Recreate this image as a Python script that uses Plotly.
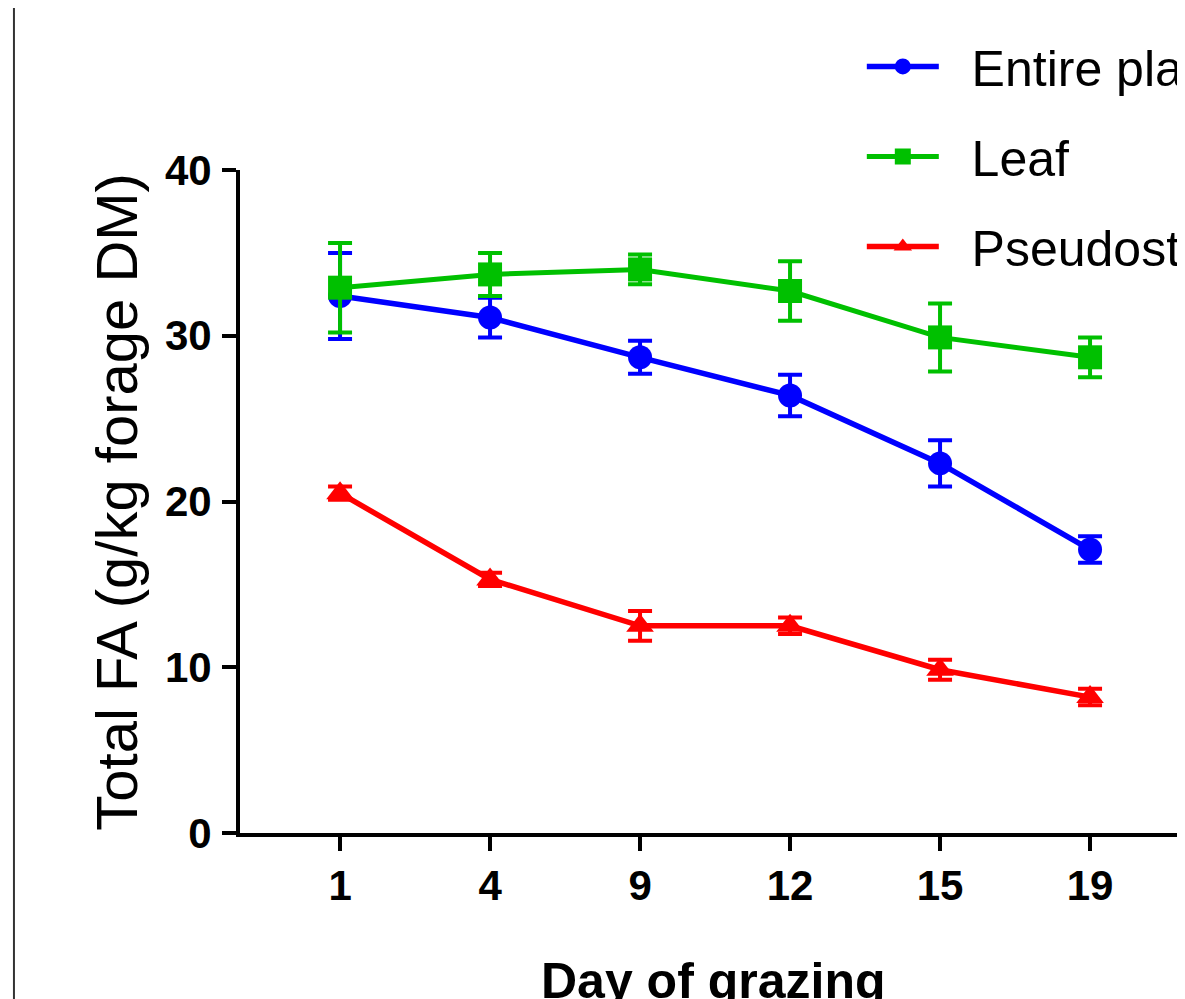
import plotly.graph_objects as go

days = ["1", "4", "9", "12", "15", "19"]

entire_plant = [32.4, 31.1, 28.7, 26.4, 22.3, 17.1]
entire_plant_err = [2.6, 1.2, 1.0, 1.25, 1.4, 0.8]

leaf = [32.9, 33.7, 34.0, 32.7, 29.9, 28.7]
leaf_err = [2.7, 1.3, 0.9, 1.8, 2.05, 1.2]

pseudostem = [20.5, 15.3, 12.5, 12.5, 9.85, 8.2]
pseudostem_err = [0.4, 0.4, 0.9, 0.5, 0.6, 0.5]

y_ticks = [0, 10, 20, 30, 40]

BLUE = "#0000FF"
GREEN = "#00C000"
RED = "#FF0000"
FONT = "Arial, Liberation Sans, sans-serif"
GAP = "\u00a0\u00a0"

fig = go.Figure()

series = [
    ("Entire plant", entire_plant, entire_plant_err, BLUE, "circle", 24, 5.5),
    ("Leaf", leaf, leaf_err, GREEN, "square", 24, 5),
    ("Pseudostem", pseudostem, pseudostem_err, RED, "triangle-up", 24, 5.5),
]

for i, (name, vals, errs, col, sym, msize, lw) in enumerate(series):
    fig.add_trace(go.Scatter(
        x=days, y=vals, name=GAP + name, mode="lines+markers",
        legendgroup=f"g{i}",
        line=dict(color=col, width=lw),
        marker=dict(color=col, symbol=sym, size=msize, line=dict(width=0)),
        error_y=dict(type="data", array=errs, visible=True, color=col,
                     thickness=4, width=12),
    ))

fig.update_layout(
    width=1177, height=991,
    margin=dict(l=232, r=0, t=162, b=166, autoexpand=False),
    paper_bgcolor="white", plot_bgcolor="white",
    font=dict(family=FONT, color="black"),
    showlegend=True,
    legend=dict(
        x=0.658, y=1.215, xanchor="left", yanchor="top",
        xref="paper", yref="paper",
        font=dict(family=FONT, size=50, color="black"),
        bgcolor="rgba(0,0,0,0)", borderwidth=0,
        itemwidth=72, traceorder="grouped", tracegroupgap=22,
    ),
    xaxis=dict(
        type="category", range=[-0.667, 5.633],
        showline=True, linecolor="black", linewidth=4,
        ticks="outside", ticklen=14, tickwidth=4, tickcolor="black",
        tickfont=dict(family=FONT, size=42, color="black", weight="bold"),
        ticklabelstandoff=-1,
        showgrid=False, zeroline=False,
    ),
    yaxis=dict(
        range=[0, 40], tickvals=y_ticks, ticktext=[str(v) for v in y_ticks],
        showline=True, linecolor="black", linewidth=4,
        ticks="outside", ticklen=14, tickwidth=4, tickcolor="black",
        tickfont=dict(family=FONT, size=42, color="black", weight="bold"),
        ticklabelstandoff=2,
        showgrid=False, zeroline=False,
    ),
    annotations=[
        dict(text="Total FA (g/kg forage DM)", textangle=-90,
             xref="paper", yref="paper", x=-0.131, y=0.5,
             xanchor="center", yanchor="middle", showarrow=False,
             font=dict(family=FONT, size=58, color="black")),
        dict(text="<b>Day of grazing</b>",
             xref="paper", yref="paper", x=0.5, y=-0.178,
             xanchor="center", yanchor="top", showarrow=False,
             font=dict(family=FONT, size=50, color="black")),
    ],
    shapes=[
        dict(type="line", xref="paper", yref="paper",
             x0=-0.2392, x1=-0.2392, y0=-0.3, y1=1.3,
             line=dict(color="#333333", width=2)),
    ],
)

fig.write_html("out.html")
